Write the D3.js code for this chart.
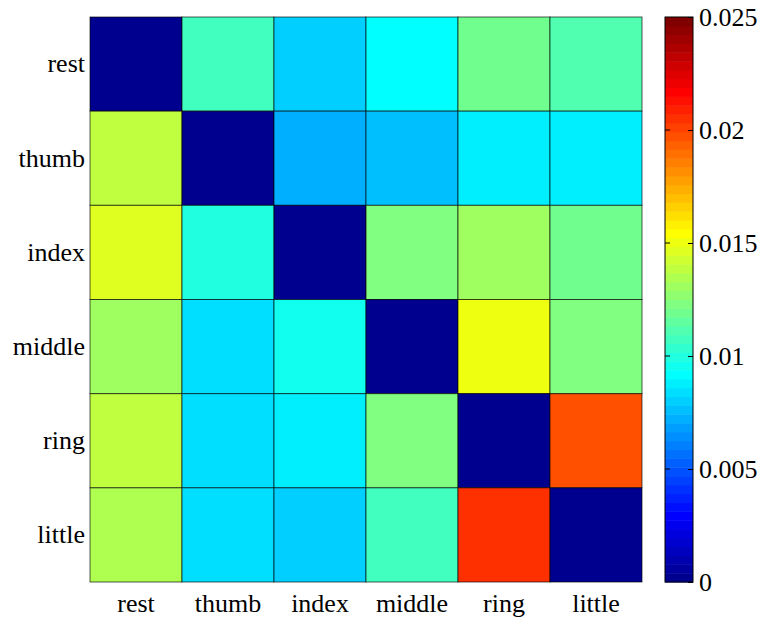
<!DOCTYPE html>
<html><head><meta charset="utf-8">
<script src="https://cdn.jsdelivr.net/npm/d3@7"></script>
<style>html,body{margin:0;padding:0;background:#fff;}svg{display:block;}
svg text{font-family:"Liberation Serif","Times New Roman",Times,serif !important;}</style>
</head><body>
<script>
const rows = ["rest","thumb","index","middle","ring","little"];
const cols = ["rest","thumb","index","middle","ring","little"];
const values = [
  [0.0000, 0.01074, 0.00801, 0.00918, 0.01191, 0.01113],
  [0.01387, 0.0000, 0.00723, 0.00762, 0.00879, 0.00879],
  [0.01465, 0.00996, 0.0000, 0.0123, 0.01309, 0.01191],
  [0.01309, 0.0084, 0.00957, 0.0000, 0.01504, 0.0123],
  [0.01387, 0.0084, 0.00879, 0.0123, 0.0000, 0.01973],
  [0.01348, 0.0084, 0.00801, 0.01074, 0.02051, 0.0000]
];
const colorTicks = [0, 0.005, 0.01, 0.015, 0.02, 0.025];
const cmin = 0, cmax = 0.025;

// MATLAB jet(64)
function jet64(i){ // i in 1..64
  const u = k => k<=16 ? k/16 : (k<=31 ? 1 : (48-k)/16);
  const pick = k => (k>=1 && k<=47) ? u(k) : 0;
  const r = pick(i-24), g = pick(i-8), b = pick(i+8);
  return d3.rgb(Math.round(r*255), Math.round(g*255), Math.round(b*255)).toString();
}
const M = 64;
const colorIndex = v => Math.min(M, Math.floor((v-cmin)/(cmax-cmin)*M)+1);
const color = v => jet64(colorIndex(v));

const W = 767, H = 625;
const svg = d3.select("body").append("svg").attr("width", W).attr("height", H);
const plot = {left: 90, right: 642, top: 17, bottom: 582};

const x = d3.scaleBand().domain(cols).range([plot.left, plot.right]);
const y = d3.scaleBand().domain(rows).range([plot.top, plot.bottom]);

const cells = [];
rows.forEach((r,i)=>cols.forEach((c,j)=>cells.push({r,c,v:values[i][j]})));

svg.append("g").selectAll("rect").data(cells).join("rect")
  .attr("x", d=>x(d.c)).attr("y", d=>y(d.r))
  .attr("width", x.bandwidth()).attr("height", y.bandwidth())
  .attr("fill", d=>color(d.v))
  .attr("stroke", "rgba(0,0,0,0.65)").attr("stroke-width", 1);

const FS = 26;

// axes
const xAxis = svg.append("g").attr("transform", `translate(0,${plot.bottom})`)
  .call(d3.axisBottom(x).tickSize(0).tickPadding(12));
xAxis.select(".domain").remove();
xAxis.selectAll("text").attr("font-size", FS).attr("fill","#000").attr("dy","0.71em");

const yAxis = svg.append("g").attr("transform", `translate(${plot.left},0)`)
  .call(d3.axisLeft(y).tickSize(0).tickPadding(5));
yAxis.select(".domain").remove();
yAxis.selectAll("text").attr("font-size", FS).attr("fill","#000");

// colorbar
const cb = {left: 665, right: 693, top: 17, bottom: 582};
const cy = d3.scaleLinear().domain([cmin, cmax]).range([cb.bottom, cb.top]);
const bands = d3.range(1, M+1);
svg.append("g").selectAll("rect").data(bands).join("rect")
  .attr("x", cb.left).attr("width", cb.right-cb.left)
  .attr("y", i=>cy(cmin+(cmax-cmin)*i/M))
  .attr("height", i=>cy(cmin+(cmax-cmin)*(i-1)/M)-cy(cmin+(cmax-cmin)*i/M)+0.5)
  .attr("fill", i=>jet64(i));
svg.append("rect").attr("x", cb.left).attr("y", cb.top)
  .attr("width", cb.right-cb.left).attr("height", cb.bottom-cb.top)
  .attr("fill","none").attr("stroke","#000").attr("stroke-width",1);

const cAxis = svg.append("g").attr("transform", `translate(${cb.right},0)`)
  .call(d3.axisRight(cy).tickValues(colorTicks).tickFormat(d=>d===0?"0":String(+d.toFixed(3))).tickSize(-5).tickPadding(6));
cAxis.select(".domain").remove();
cAxis.selectAll("line").attr("stroke","#000");
cAxis.selectAll("text").attr("font-size", FS).attr("fill","#000");
// left-side ticks
svg.append("g").selectAll("line").data(colorTicks.slice(1,-1)).join("line")
  .attr("x1", cb.left).attr("x2", cb.left+5)
  .attr("y1", d=>cy(d)).attr("y2", d=>cy(d)).attr("stroke","#000");
</script>
</body></html>
